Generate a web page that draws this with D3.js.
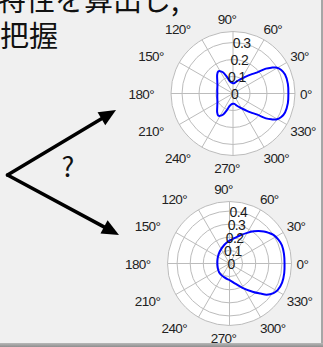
<!DOCTYPE html>
<html>
<head>
<meta charset="utf-8">
<script src="https://cdn.jsdelivr.net/npm/d3@7"></script>
<style>
  body { margin: 0; background: #f0f0f0; overflow: hidden; }
  svg { display: block; }
</style>
</head>
<body>
<div id="chart"></div>
<script>
// angular grid, shared by both plots
const angleTicks = [0, 30, 60, 90, 120, 150, 180, 210, 240, 270, 300, 330];

// upper plot
const topRingTicks = [0, 0.1, 0.2, 0.3];
const topMax = 0.365;
const topAngles = [0, 10, 20, 26, 31, 34, 37, 41, 47, 52, 58, 64, 72, 82, 90, 100, 105, 110, 115, 120, 124, 130, 140, 150, 160, 170,
                   180, 190, 200, 210, 220, 230, 236, 240, 245, 250, 255, 260, 270, 278, 288, 296, 302, 308, 313, 319, 323, 326, 329, 334, 340, 350];
const topValues = [0.326, 0.328, 0.326, 0.316, 0.297, 0.272, 0.243, 0.19, 0.152, 0.128, 0.106, 0.091, 0.076, 0.062, 0.061, 0.066, 0.076, 0.102, 0.136, 0.152, 0.156, 0.145, 0.121, 0.106, 0.098, 0.094,
                   0.092, 0.094, 0.098, 0.106, 0.121, 0.145, 0.156, 0.152, 0.136, 0.102, 0.076, 0.066, 0.061, 0.062, 0.076, 0.091, 0.106, 0.128, 0.152, 0.19, 0.243, 0.272, 0.297, 0.316, 0.326, 0.328];

// lower plot
const botRingTicks = [0, 0.1, 0.2, 0.3, 0.4];
const botMax = 0.473;
const botAngles = [0, 10, 19, 26, 33, 38, 43, 48, 53, 60, 69, 78, 88, 100, 110, 120, 130, 145, 160, 175,
                   190, 205, 220, 235, 250, 262, 272, 286, 298, 310, 316, 320, 326, 331, 340, 350];
const botValues = [0.42, 0.422, 0.423, 0.415, 0.40, 0.38, 0.358, 0.333, 0.307, 0.27, 0.231, 0.2, 0.178, 0.156, 0.14, 0.127, 0.117, 0.105, 0.097, 0.093,
                   0.093, 0.097, 0.104, 0.108, 0.113, 0.12, 0.128, 0.16, 0.21, 0.283, 0.33, 0.37, 0.405, 0.42, 0.427, 0.424];

const captionLines = ["特性を算出し,", "把握"];
const questionMark = "?";

const W = 323, H = 347;
const svg = d3.select("#chart").append("svg")
    .attr("width", W)
    .attr("height", H);

svg.append("rect").attr("width", W).attr("height", H).attr("fill", "#f0f0f0");

// caption (top line is cut by the frame)
svg.selectAll("text.caption")
   .data(captionLines)
   .enter()
   .append("text")
   .attr("class", "caption")
   .attr("x", (d, i) => i === 0 ? -3 : 0)
   .attr("y", (d, i) => 11 + i * 36)
   .attr("font-family", "'Noto Sans CJK JP', sans-serif")
   .attr("font-size", "29px")
   .attr("fill", "#111")
   .text(d => d);

const rad = deg => deg * Math.PI / 180;

function drawPolar(cx, cy, R, rMax, ringTicks, angles, values) {
    const g = svg.append("g").attr("transform", `translate(${cx},${cy})`);
    const r = d3.scaleLinear().domain([0, rMax]).range([0, R]);

    g.append("circle").attr("r", R).attr("fill", "#fff").attr("stroke", "none");

    // rings
    g.selectAll("circle.ring")
     .data(ringTicks.filter(t => t > 0).concat([rMax]))
     .enter()
     .append("circle")
     .attr("class", "ring")
     .attr("r", d => r(d))
     .attr("fill", "none")
     .attr("stroke", "#bcbcbc")
     .attr("stroke-width", 1);

    // spokes
    g.selectAll("line.spoke")
     .data(angleTicks)
     .enter()
     .append("line")
     .attr("class", "spoke")
     .attr("x1", 0).attr("y1", 0)
     .attr("x2", d => R * Math.cos(rad(d)))
     .attr("y2", d => -R * Math.sin(rad(d)))
     .attr("stroke", "#bcbcbc")
     .attr("stroke-width", 1);

    // pattern
    const line = d3.lineRadial()
        .angle(d => Math.PI / 2 - rad(d[0]))
        .radius(d => r(d[1]))
        .curve(d3.curveCatmullRomClosed.alpha(0.5));
    g.append("path")
     .datum(d3.zip(angles, values))
     .attr("d", line)
     .attr("fill", "none")
     .attr("stroke", "#0000ff")
     .attr("stroke-width", 2);

    // ring labels, along the 82 deg line
    g.selectAll("text.rlab")
     .data(ringTicks)
     .enter()
     .append("text")
     .attr("class", "rlab")
     .attr("x", d => r(d) * Math.cos(rad(82)) + 1.5)
     .attr("y", d => -r(d) * Math.sin(rad(82)))
     .attr("text-anchor", "middle")
     .attr("dominant-baseline", "central")
     .attr("font-family", "'Liberation Sans', Arial, sans-serif")
     .attr("font-size", "14px")
     .attr("letter-spacing", "-0.6px")
     .attr("fill", "#1a1a1a")
     .text(d => d3.format("~g")(d));

    // angle labels
    g.selectAll("text.alab")
     .data(angleTicks)
     .enter()
     .append("text")
     .attr("class", "alab")
     .attr("x", d => -6 + 73 * Math.cos(rad(d)))
     .attr("y", d => -74.5 * Math.sin(rad(d)) + 0.5)
     .attr("text-anchor", d => {
         const c = Math.cos(rad(d));
         return c > 0.01 ? "start" : (c < -0.01 ? "end" : "middle");
     })
     .attr("dominant-baseline", "central")
     .attr("font-family", "'Liberation Sans', Arial, sans-serif")
     .attr("font-size", "13.5px")
     .attr("letter-spacing", "-0.6px")
     .attr("fill", "#222")
     .text(d => d + "°");
}

drawPolar(233, 93.5, 62, topMax, topRingTicks, topAngles, topValues);
drawPolar(229.5, 263.5, 62, botMax, botRingTicks, botAngles, botValues);

// the two arrows and the question mark
const origin = [7.5, 175];
const tips = [[116, 110], [119, 235]];
tips.forEach(tip => {
    const dx = tip[0] - origin[0], dy = tip[1] - origin[1];
    const len = Math.hypot(dx, dy);
    const ux = dx / len, uy = dy / len;
    const headL = 17, headW = 7.5;
    const bx = tip[0] - ux * headL, by = tip[1] - uy * headL;
    svg.append("line")
       .attr("x1", origin[0]).attr("y1", origin[1])
       .attr("x2", bx + ux * 2).attr("y2", by + uy * 2)
       .attr("stroke", "#000")
       .attr("stroke-width", 3.5)
       .attr("stroke-linecap", "round");
    svg.append("path")
       .attr("d", `M${tip[0]},${tip[1]}L${bx - uy * headW},${by + ux * headW}L${bx + uy * headW},${by - ux * headW}Z`)
       .attr("fill", "#000");
});

svg.append("text")
   .attr("x", 68)
   .attr("y", 177)
   .attr("text-anchor", "middle")
   .attr("font-family", "'Noto Sans CJK JP', sans-serif")
   .attr("font-size", "27px")
   .attr("fill", "#111")
   .text(questionMark);

// frame edges
const grad = svg.append("defs").append("linearGradient")
    .attr("id", "edge").attr("x1", 0).attr("y1", 0).attr("x2", 0).attr("y2", 1);
grad.append("stop").attr("offset", "0%").attr("stop-color", "#b8b8b8");
grad.append("stop").attr("offset", "100%").attr("stop-color", "#8e8e8e");
svg.append("rect").attr("x", 321).attr("y", 0).attr("width", 2).attr("height", H).attr("fill", "#a6a6a6");
svg.append("rect").attr("x", 0).attr("y", 343).attr("width", W).attr("height", 4).attr("fill", "url(#edge)");
</script>
</body>
</html>
